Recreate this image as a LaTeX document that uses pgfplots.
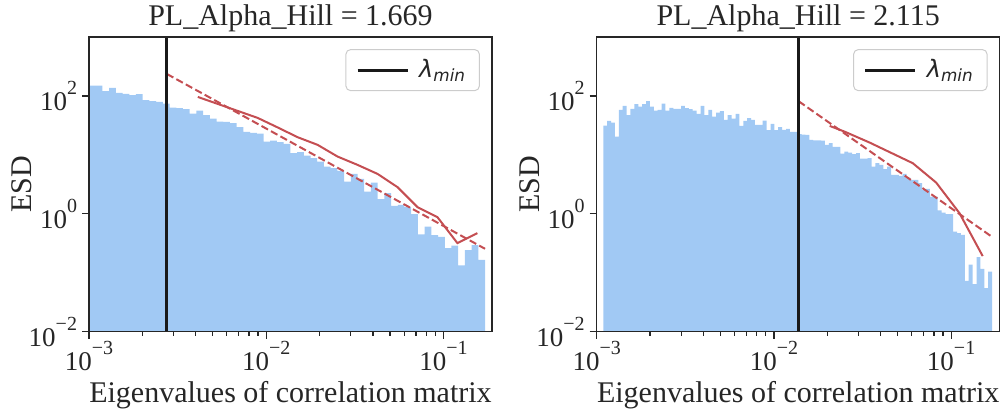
\documentclass[border=0pt]{standalone}
\usepackage{fontspec}
\setmainfont{Liberation Serif}
\newfontfamily\dejavu{DejaVu Sans}
\usepackage{pgfplots}
\pgfplotsset{compat=1.18}
\definecolor{histblue}{HTML}{A1C9F4}
\definecolor{fitred}{HTML}{C44E52}
\definecolor{axgray}{gray}{0.15}
\newcommand{\tl}[1]{10\raisebox{8pt}{\fontsize{10}{10}\selectfont #1}}
\newcommand{\lmin}{{\fontsize{12}{14}\dejavu\itshape λ\raisebox{-2pt}{\fontsize{8.4}{10}\selectfont min}}}
\pgfplotsset{esd/.style={
  scale only axis, width=201.5pt, height=147.35pt,
  xmin=0.001, xmax=0.188, ymin=0.01, ymax=1000,
  axis on top,
  axis line style={axgray, line width=0.6pt},
  tick style={axgray, line width=0.6pt},
  tick align=outside, major tick length=3.5pt, minor tick length=2pt,
  xtick pos=left, ytick pos=left,
  xtick={0.001,0.01,0.1}, xticklabels={\tl{−3},\tl{−2},\tl{−1}},
  minor xtick={0.002,0.003,0.004,0.005,0.006,0.007,0.008,0.009,0.02,0.03,0.04,0.05,0.06,0.07,0.08,0.09},
  ytick={0.01,1,100}, yticklabels={\tl{−2},\tl{0},\tl{2}},
  yminorticks=false,
  tick label style={font=\fontsize{13.5}{16}\selectfont, text=axgray},
  xticklabel style={anchor=base, yshift=-15.9pt},
  yticklabel style={anchor=east, inner sep=0pt, xshift=-2.3pt},
  title style={anchor=base, font=\fontsize{15}{18}\selectfont, text=axgray},
  xlabel={Eigenvalues of correlation matrix},
  xlabel style={at={(axis description cs:0.5,0)}, anchor=base, yshift=-35.5pt, font=\fontsize{15}{18}\selectfont, text=axgray},
  ylabel={ESD},
  ylabel style={at={(axis description cs:-0.1424,0.5)}, anchor=base, font=\fontsize{15}{18}\selectfont, text=axgray},
  legend style={at={(1,1)}, anchor=north east, xshift=-6pt, yshift=-6pt, draw=black!20, line width=0.5pt, fill=white, rounded corners=2.5pt, inner xsep=5.2pt, inner ysep=3pt, text=axgray},
  legend image code/.code={\draw[##1] (0pt,0pt) -- (25pt,0pt); \path (28pt,0pt);},
}}
\begin{document}
\begin{tikzpicture}
\useasboundingbox (-44.5pt,-38.15pt) rectangle (457.5pt,165.85pt);
\begin{axis}[xmode=log, ymode=log, esd, title={PL\_Alpha\_Hill = 1.669}]
\addplot[fill=histblue, draw=none, const plot mark left, forget plot] coordinates {
(0.0010000,0.01)
(0.0010000,149.6) (0.0010911,149.6) (0.0011906,120.2) (0.0012991,136.7) (0.0014175,112.4)
(0.0015467,108.1) (0.0016877,102.8) (0.0018415,106.9) (0.0020093,84.6) (0.0021925,81.3)
(0.0023923,79.1) (0.0026103,74.0) (0.0028482,63.4) (0.0031078,61.9) (0.0033911,59.5)
(0.0037001,50.1) (0.0040374,56.3) (0.0044053,47.1) (0.0048068,41.2) (0.0052449,36.7)
(0.0057230,36.3) (0.0062446,34.5) (0.0068137,29.5) (0.0074347,24.5) (0.0081123,23.6)
(0.0088516,23.0) (0.0096583,16.8) (0.010539,17.5) (0.011499,16.4) (0.012547,15.4)
(0.013691,10.7) (0.014939,11.1) (0.016300,9.73) (0.017786,8.79) (0.019407,7.70)
(0.021176,6.34) (0.023106,5.95) (0.025212,5.36) (0.027510,3.53) (0.030017,4.76)
(0.032748,3.92) (0.035733,2.39) (0.038989,3.39) (0.042543,1.77) (0.046420,2.24)
(0.050651,1.37) (0.055267,1.42) (0.060304,1.30) (0.065800,0.99) (0.071797,0.446)
(0.078343,0.609) (0.085483,0.435) (0.093273,0.408) (0.10177,0.262) (0.11105,0.290)
(0.12117,0.133) (0.13221,0.243) (0.14426,0.294) (0.15741,0.166) (0.17176,0.166)
(0.17176,0.01)};
\addplot[fitred, line width=1pt, forget plot] coordinates {
(0.004112,96.2) (0.005330,73.2) (0.006909,55.7) (0.008955,42.4) (0.011608,29.2)
(0.015046,19.95) (0.019503,14.8) (0.025280,9.36) (0.032768,6.77) (0.042474,4.76)
(0.055055,2.84) (0.071363,1.30) (0.092501,0.879) (0.11990,0.319) (0.15542,0.471)};
\addplot[fitred, line width=1pt, dash pattern=on 3.7pt off 1.7pt, forget plot] coordinates {
(0.00275,236) (0.1718,0.255)};
\addplot[black!90, line width=1.5pt] coordinates {(0.00275,0.01) (0.00275,1000)};
\addlegendentry{\lmin}
\end{axis}
\begin{axis}[xmode=log, ymode=log, esd, at={(253.85pt,0pt)}, title={PL\_Alpha\_Hill = 2.115}]
\addplot[fill=histblue, draw=none, const plot mark left, forget plot] coordinates {
(0.0010889,0.01)
(0.0010889,31.4) (0.0011454,37.7) (0.0012048,35.3) (0.0012673,20.4) (0.0013330,57.9)
(0.0014021,67.7) (0.0014748,47.1) (0.0015512,60.2) (0.0016316,72.3) (0.0017162,65.9)
(0.0018052,72.3) (0.0018987,81.3) (0.0019971,65.9) (0.0021007,56.3) (0.0022096,57.9)
(0.0023241,74.0) (0.0024446,56.3) (0.0025713,62.6) (0.0027046,60.2) (0.0028448,60.2)
(0.0029923,67.7) (0.0031474,61.9) (0.0033106,59.5) (0.0034822,56.3) (0.0036627,49.5)
(0.0038526,67.7) (0.0040523,47.1) (0.0042624,57.9) (0.0044833,44.6) (0.0047157,52.1)
(0.0049602,55.0) (0.0052173,39.2) (0.0054878,47.1) (0.0057723,41.2) (0.0060715,49.5)
(0.0063862,31.0) (0.0067173,37.7) (0.0070655,41.9) (0.0074318,39.2) (0.0078171,32.2)
(0.0082223,32.2) (0.0086485,38.1) (0.0090969,26.2) (0.0095685,33.5) (0.010055,26.2)
(0.010576,29.5) (0.011124,26.5) (0.011701,27.6) (0.012307,24.5) (0.012945,24.5)
(0.013614,22.4) (0.014322,22.1) (0.015064,21.8) (0.015845,17.9) (0.016667,17.7)
(0.017531,17.7) (0.018440,17.5) (0.019396,14.8) (0.020401,15.8) (0.021459,13.7)
(0.022571,13.7) (0.023742,10.5) (0.024973,11.4) (0.026267,10.9) (0.027629,10.3)
(0.029062,10.7) (0.030569,8.65) (0.032153,8.65) (0.033820,8.79) (0.035574,6.34)
(0.037418,7.23) (0.039358,6.77) (0.041399,5.72) (0.043545,6.34) (0.045803,4.58)
(0.048178,4.58) (0.050676,4.41) (0.053303,4.76) (0.056067,4.12) (0.058974,3.77)
(0.062032,3.77) (0.065248,3.31) (0.068631,2.55) (0.072189,2.65) (0.075932,1.96)
(0.079869,1.96) (0.084010,1.14) (0.088366,1.05) (0.092948,0.99) (0.097648,0.99)
(0.10271,0.501) (0.10803,0.471) (0.11363,0.441) (0.11953,0.0732) (0.12572,0.137)
(0.13224,0.0643) (0.13910,0.185) (0.14631,0.116) (0.15389,0.0551) (0.16187,0.105)
(0.17022,0.105)
(0.17022,0.01)};
\addplot[fitred, line width=1pt, forget plot] coordinates {
(0.02064,31.0) (0.02506,24.8) (0.03465,16.2) (0.06076,7.23) (0.08232,3.39)
(0.1114,1.03) (0.1507,0.192)};
\addplot[fitred, line width=1pt, dash pattern=on 3.7pt off 1.7pt, forget plot] coordinates {
(0.01379,81.3) (0.1715,0.400)};
\addplot[black!90, line width=1.5pt] coordinates {(0.01379,0.01) (0.01379,1000)};
\addlegendentry{\lmin}
\end{axis}
\end{tikzpicture}
\end{document}
